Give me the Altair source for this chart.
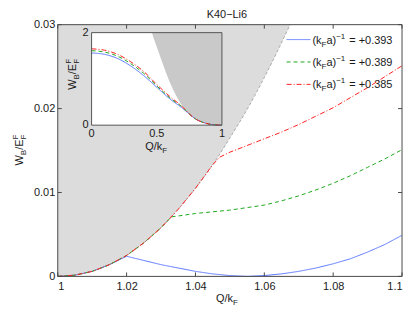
import altair as alt
import pandas as pd

# ---------------- data ----------------
bound_q = [1.000, 1.005, 1.010, 1.015, 1.020, 1.025, 1.030, 1.035, 1.040, 1.045, 1.050, 1.055, 1.060, 1.0675]
bound_w = [0.0, 0.00015, 0.0006, 0.0014, 0.0025, 0.0040, 0.0058, 0.0080, 0.0105, 0.0133, 0.0165, 0.0199, 0.0237, 0.0300]

blue_q = [1.000, 1.005, 1.010, 1.015, 1.020, 1.025, 1.030, 1.035, 1.040, 1.045, 1.050, 1.055, 1.060,
          1.065, 1.070, 1.075, 1.080, 1.085, 1.090, 1.095, 1.100]
blue_w = [0.0, 0.00015, 0.0006, 0.0014, 0.0024, 0.0019, 0.0014, 0.0010, 0.0006, 0.0003, 0.0001, 0.0, 0.0001,
          0.0003, 0.0006, 0.0010, 0.0015, 0.0021, 0.0029, 0.0038, 0.0049]

green_q = [1.000, 1.005, 1.010, 1.015, 1.020, 1.025, 1.030, 1.033, 1.035, 1.040, 1.045, 1.050, 1.055,
           1.060, 1.065, 1.070, 1.075, 1.080, 1.085, 1.090, 1.095, 1.100]
green_w = [0.0, 0.00015, 0.0006, 0.0014, 0.0025, 0.0040, 0.0058, 0.0071, 0.0072, 0.0075, 0.0077, 0.0079, 0.0082,
           0.0085, 0.0090, 0.0096, 0.0103, 0.0111, 0.0120, 0.0130, 0.0140, 0.0151]

red_q = [1.000, 1.005, 1.010, 1.015, 1.020, 1.025, 1.030, 1.035, 1.040, 1.045, 1.047, 1.050, 1.055,
         1.060, 1.065, 1.070, 1.075, 1.080, 1.085, 1.090, 1.095, 1.100]
red_w = [0.0, 0.00015, 0.0006, 0.0014, 0.0025, 0.0040, 0.0058, 0.0080, 0.0105, 0.0133, 0.0142, 0.0148, 0.0156,
         0.0164, 0.0172, 0.0181, 0.0191, 0.0201, 0.0213, 0.0225, 0.0238, 0.0251]

inset_bound_q = [0.463, 0.49, 0.52, 0.56, 0.60, 0.65, 0.70, 0.75, 0.80, 0.85, 0.90, 0.95, 1.00]
inset_bound_w = [2.0, 1.77, 1.53, 1.22, 0.93, 0.63, 0.40, 0.24, 0.13, 0.065, 0.025, 0.006, 0.0]

inset_q = [0.0, 0.1, 0.2, 0.3, 0.4, 0.5, 0.6, 0.7, 0.75, 0.8, 0.85, 0.9, 0.95, 1.0]
inset_blue = [1.56, 1.53, 1.44, 1.28, 1.07, 0.82, 0.57, 0.36, 0.24, 0.13, 0.065, 0.025, 0.006, 0.0]
inset_green = [1.61, 1.58, 1.49, 1.33, 1.12, 0.85, 0.59, 0.38, 0.24, 0.13, 0.065, 0.025, 0.006, 0.0]
inset_red = [1.65, 1.62, 1.53, 1.37, 1.16, 0.88, 0.62, 0.39, 0.24, 0.13, 0.065, 0.025, 0.006, 0.0]

series_names = ["+0.393", "+0.389", "+0.385"]
series_colors = ["#5a76ff", "#1fa81f", "#ff2020"]
series_dash = [[1, 0], [4, 3], [5, 2, 1, 2]]

x_ticks = [1.0, 1.02, 1.04, 1.06, 1.08, 1.1]
y_ticks = [0.0, 0.01, 0.02, 0.03]
inset_x_ticks = [0.0, 0.5, 1.0]
inset_x_labels = ["0", "0.5", "1"]
inset_y_ticks = [0.0, 2.0]
inset_y_labels = ["0", "2"]

title_text = "K40\u2212Li6"

# ---------------- layout ----------------
W, H = 346, 253
FONT = "Liberation Sans"
INK = "#1a1a1a"
IX0, IX1, IY0, IY1 = 34, 165, 101, 8   # inset box in plot pixels
Y_TOP, IY_TOP = 0.03, 2.0              # top of each panel's y domain

one = pd.DataFrame({"a": [0]})

xs = alt.Scale(domain=[1.0, 1.1], nice=False, zero=False)
ys = alt.Scale(domain=[0.0, Y_TOP], nice=False, zero=False)
xaxis = alt.Axis(values=x_ticks, format=".2~f", title=None, ticks=False, domain=False, grid=False,
                 labelFont=FONT, labelFontSize=11, labelColor=INK, labelPadding=4)
yaxis = alt.Axis(values=y_ticks, format=".2~f", title=None, ticks=False, domain=False, grid=False,
                 labelFont=FONT, labelFontSize=11, labelColor=INK, labelPadding=3)


def X(f):
    return alt.X(f, type="quantitative", scale=xs, axis=xaxis)


def Y(f):
    return alt.Y(f, type="quantitative", scale=ys, axis=yaxis)


ixs = alt.Scale(domain=[0, 1], range=[IX0, IX1], nice=False, zero=False)
iys = alt.Scale(domain=[0, IY_TOP], range=[IY0, IY1], nice=False, zero=False)


def IX(f):
    return alt.X(f, type="quantitative", scale=ixs, axis=None)


def IY(f):
    return alt.Y(f, type="quantitative", scale=iys, axis=None)


# Arial-like advance widths (per 1000 em) for laying out rich text pieces
WID = {"(": 333, ")": 333, "k": 500, "a": 556, "F": 611, "\u2212": 584, "1": 556, " ": 278,
       "=": 584, "+": 584, "0": 556, ".": 278, "3": 556, "9": 556, "8": 556, "5": 556, "W": 944, "B": 667,
       "/": 278, "E": 667, "Q": 778}


def tw(s, size):
    return sum(WID.get(c, 556) for c in s) * size / 1000.0


def rich(pieces, x, y, angle=0, anchor="left"):
    """pieces: (text, size, baseline shift down, advances, gap_before)"""
    def adv_of(p):
        return tw(p[0], p[1]) if (len(p) < 4 or p[3]) else 0.0

    def gap_of(p):
        return p[4] if len(p) > 4 else 0.0

    total = sum(adv_of(p) + gap_of(p) for p in pieces)
    cum = 0.0 if anchor == "left" else -total / 2
    layers = []
    for p in pieces:
        s, size, dy = p[0], p[1], p[2]
        cum += gap_of(p)
        if angle == 0:
            px, py = x + cum, y + dy
        else:
            px, py = x + dy, y - cum
        layers.append(
            alt.Chart(one).mark_text(text=s, font=FONT, fontSize=size, align="left",
                                     baseline="alphabetic", angle=angle, color=INK).encode(
                x=alt.value(px), y=alt.value(py))
        )
        cum += adv_of(p)
    return layers


# ---------------- main panel ----------------
df_bound = pd.DataFrame({"q": bound_q, "w": bound_w, "top": [Y_TOP] * len(bound_q)})
gray = alt.Chart(df_bound).mark_area(color="#dcdcdc", opacity=1, interpolate="monotone").encode(
    x=X("q"), y=Y("w"), y2="top")
bline = alt.Chart(df_bound).mark_line(color="#9a9a9a", strokeWidth=0.8, strokeDash=[3, 2],
                                      interpolate="monotone").encode(x=X("q"), y=Y("w"))

main_series = [(blue_q, blue_w), (green_q, green_w), (red_q, red_w)]
main_lines = []
for (q, w), col, dash in zip(main_series, series_colors, series_dash):
    d = pd.DataFrame({"q": q, "w": w})
    main_lines.append(alt.Chart(d).mark_line(color=col, strokeWidth=1, strokeDash=dash).encode(
        x=X("q"), y=Y("w")))

frame = alt.Chart(one).mark_rect(fill=None, stroke="#4a4a4a", strokeWidth=1).encode(
    x=alt.value(0), x2=alt.value(W), y=alt.value(0), y2=alt.value(H))

dxt = pd.DataFrame({"v": x_ticks})
dyt = pd.DataFrame({"v": y_ticks})
tk = dict(color="#4a4a4a", strokeWidth=1)
ticks = [
    alt.Chart(dxt).mark_rule(**tk).encode(x=X("v"), y=alt.value(H), y2=alt.value(H - 4)),
    alt.Chart(dxt).mark_rule(**tk).encode(x=X("v"), y=alt.value(0), y2=alt.value(4)),
    alt.Chart(dyt).mark_rule(**tk).encode(y=Y("v"), x=alt.value(0), x2=alt.value(4)),
    alt.Chart(dyt).mark_rule(**tk).encode(y=Y("v"), x=alt.value(W), x2=alt.value(W - 4)),
]

# legend
legend = []
for i, (name, col, dash) in enumerate(zip(series_names, series_colors, series_dash)):
    yc = 15 + i * 22.5
    legend.append(alt.Chart(one).mark_rule(color=col, strokeWidth=1, strokeDash=dash).encode(
        x=alt.value(230), x2=alt.value(254), y=alt.value(yc)))
    legend += rich([("(k", 11, 0, True, 0), ("F", 8, 3), ("a)", 11, 0), ("\u22121", 8, -5),
                    ("= " + name, 11, 0, True, 4)],
                   256, yc + 4)

texts = []
texts.append(alt.Chart(one).mark_text(text=title_text, font=FONT, fontSize=11, color=INK, align="center",
                                      baseline="alphabetic").encode(x=alt.value(170), y=alt.value(-7)))
texts += rich([("Q/k", 11, 0), ("F", 8, 3)], 170, 279, anchor="center")
texts += rich([("W", 11, 0), ("B", 8, 3), ("/E", 11, 0), ("F", 8, 3, False), ("F", 8, -5)],
              -35, 126, angle=270, anchor="center")

main = alt.layer(gray, bline, *main_lines, frame, *ticks, *legend, *texts)

# ---------------- inset ----------------
inset_bg = alt.Chart(one).mark_rect(fill="white").encode(
    x=alt.value(IX0), x2=alt.value(IX1), y=alt.value(IY1), y2=alt.value(IY0))
df_ib = pd.DataFrame({"q": inset_bound_q, "w": inset_bound_w, "top": [IY_TOP] * len(inset_bound_q)})
inset_gray = alt.Chart(df_ib).mark_area(color="#c9c9c9", opacity=1, interpolate="monotone").encode(
    x=IX("q"), y=IY("w"), y2="top")
inset_lines = []
for w, col, dash in zip([inset_blue, inset_green, inset_red], series_colors, series_dash):
    d = pd.DataFrame({"q": inset_q, "w": w})
    inset_lines.append(alt.Chart(d).mark_line(color=col, strokeWidth=1, strokeDash=dash,
                                              interpolate="monotone").encode(x=IX("q"), y=IY("w")))
inset_frame = alt.Chart(one).mark_rect(fill=None, stroke="#555555", strokeWidth=1).encode(
    x=alt.value(IX0), x2=alt.value(IX1), y=alt.value(IY1), y2=alt.value(IY0))
dixt = pd.DataFrame({"v": inset_x_ticks, "t": inset_x_labels})
diyt = pd.DataFrame({"v": inset_y_ticks, "t": inset_y_labels})
inset_xl = alt.Chart(dixt).mark_text(font=FONT, fontSize=11, color=INK, align="center", baseline="top").encode(
    x=IX("v"), y=alt.value(IY0 + 3), text="t:N")
inset_yl = alt.Chart(diyt).mark_text(font=FONT, fontSize=11, color=INK, align="right", baseline="middle").encode(
    y=IY("v"), x=alt.value(IX0 - 3), text="t:N")
inset_texts = []
inset_texts += rich([("Q/k", 11, 0), ("F", 8, 3)], 99, 126, anchor="center")
inset_texts += rich([("W", 11, 0), ("B", 8, 3), ("/E", 11, 0), ("F", 8, 3, False), ("F", 8, -5)],
                    18, 50, angle=270, anchor="center")

inset = alt.layer(inset_bg, inset_gray, *inset_lines, inset_frame, inset_xl, inset_yl, *inset_texts)

chart = alt.layer(main, inset).resolve_scale(x="independent", y="independent").properties(
    width=W, height=H,
    padding={"left": 50, "top": 16, "right": 5, "bottom": 30},
    autosize=alt.AutoSizeParams(type="none"),
).configure_view(stroke=None)

chart.save("out.html", embed_options={"renderer": "svg", "actions": False})
